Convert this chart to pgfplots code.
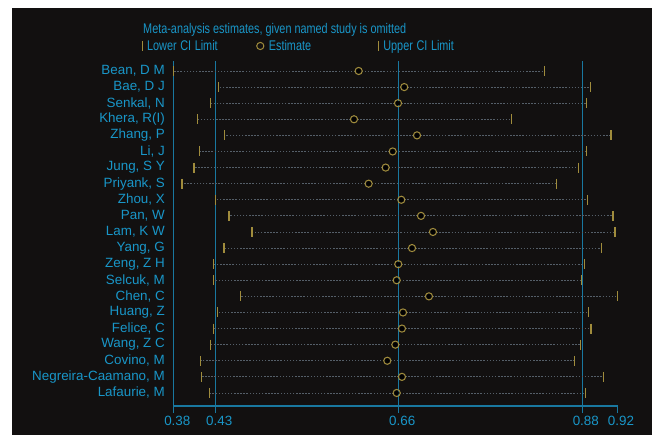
\documentclass[border=0pt]{standalone}
\usepackage{pgfplots}
\pgfplotsset{compat=1.18}
\usepackage{pgfplotstable}
\usepackage{fontspec}
\setmainfont{Liberation Sans}
\definecolor{bgc}{RGB}{18,16,16}
\definecolor{txc}{RGB}{25,150,200}
\definecolor{lnc}{RGB}{25,120,160}
\definecolor{mkc}{RGB}{160,140,60}
\definecolor{dtc}{RGB}{85,95,105}
\newcommand\f{\fontsize{13.4bp}{16bp}\selectfont}
\newcommand\ft{\fontsize{14bp}{16bp}\selectfont}
\newcommand\cn[1]{\scalebox{0.775}[1]{#1}}
\pgfplotstableread{
row lo est hi
1 0.3818 0.6077 0.8350
2 0.4366 0.6634 0.8912
3 0.4269 0.6558 0.8859
4 0.4110 0.6020 0.7942
5 0.4435 0.6790 0.9160
6 0.4134 0.6493 0.8859
7 0.4065 0.6407 0.8766
8 0.3918 0.6199 0.8492
9 0.4325 0.6598 0.8876
10 0.4492 0.6839 0.9185
11 0.4773 0.6985 0.9209
12 0.4431 0.6729 0.9042
13 0.4300 0.6561 0.8839
14 0.4300 0.6542 0.8798
15 0.4630 0.6936 0.9238
16 0.4354 0.6619 0.8888
17 0.4300 0.6606 0.8916
18 0.4269 0.6525 0.8790
19 0.4146 0.6427 0.8717
20 0.4154 0.6606 0.9066
21 0.4251 0.6542 0.8851
}\data
\begin{document}
\begin{tikzpicture}
\path[use as bounding box,fill=white] (-173.8bp,-29bp) rectangle (478.2bp,406bp);
\fill[bgc] (-161.8bp,-29bp) rectangle (478.2bp,398bp);
\begin{axis}[
  at={(0,0)}, anchor=south west,
  scale only axis, width=443.7bp, height=345bp,
  xmin=0.3818, xmax=0.9240,
  ymin=0.38, ymax=21.81, y dir=reverse,
  clip=false,
  axis x line*=bottom, axis y line*=left,
  axis line style={draw=lnc, line width=1.1bp, -},
  tick align=outside,
  major tick length=7bp,
  xtick={0.3818,0.9240}, xticklabels={0.38,0.92},
  extra x ticks={0.4331,0.6567,0.8810},
  extra x tick labels={0.43,0.66,0.88},
  extra x tick style={grid=major, major grid style={draw=lnc, line width=1.1bp}},
  x tick style={draw=lnc, line width=1.1bp},
  xticklabel style={font=\f, text=txc, xshift=3.5bp},
  /pgf/number format/assume math mode=true,
  ytick={1,...,21},
  yticklabels={{Bean, D M},{Bae, D J},{Senkal, N},{Khera, R(I)},{Zhang, P},{Li, J},{Jung, S Y},{Priyank, S},{Zhou, X},{Pan, W},{Lam, K W},{Yang, G},{Zeng, Z H},{Selcuk, M},{Chen, C},{Huang, Z},{Felice, C},{Wang, Z C},{Covino, M},{Negreira-Caamano, M},{Lafaurie, M}},
  y tick style={draw=none},
  yticklabel style={font=\f, text=txc, inner sep=0pt, xshift=-1.8bp},
  legend columns=3,
  legend style={draw=none, fill=none, at={(axis description cs:-0.0717,1.0435)}, anchor=west, inner sep=0pt,
    nodes={font=\ft, text=txc, text width=107.5bp, align=left, inner sep=2bp},
    /tikz/every odd column/.append style={column sep=3bp}},
  legend image code/.code={\draw[#1] plot coordinates {(0bp,0bp)};},
]
\addplot[only marks, mark=none, forget plot,
  error bars/.cd, x dir=both, x explicit, error mark=none,
  error bar style={draw=dtc, line width=0.9bp, dash pattern=on 1.5bp off 1.6bp}]
  table[x=est, y=row, x error plus expr=\thisrow{hi}-\thisrow{est}, x error minus expr=\thisrow{est}-\thisrow{lo}] {\data};
\addplot[only marks, mark=|, mark size=5bp, mark options={draw=mkc, line width=1.3bp}] table[x=lo, y=row] {\data};
\addlegendentry{\cn{Lower CI Limit}}
\addplot[only marks, mark=o, mark size=3.6bp, mark options={draw=mkc, fill=bgc, line width=1bp}] table[x=est, y=row] {\data};
\addlegendentry{\cn{Estimate}}
\addplot[only marks, mark=|, mark size=5bp, mark options={draw=mkc, line width=1.3bp}] table[x=hi, y=row] {\data};
\addlegendentry{\cn{Upper CI Limit}}
\end{axis}
\node[font=\ft, text=txc] at (100.9bp,376bp) {\cn{Meta-analysis estimates, given named study is omitted}};
\end{tikzpicture}
\end{document}
